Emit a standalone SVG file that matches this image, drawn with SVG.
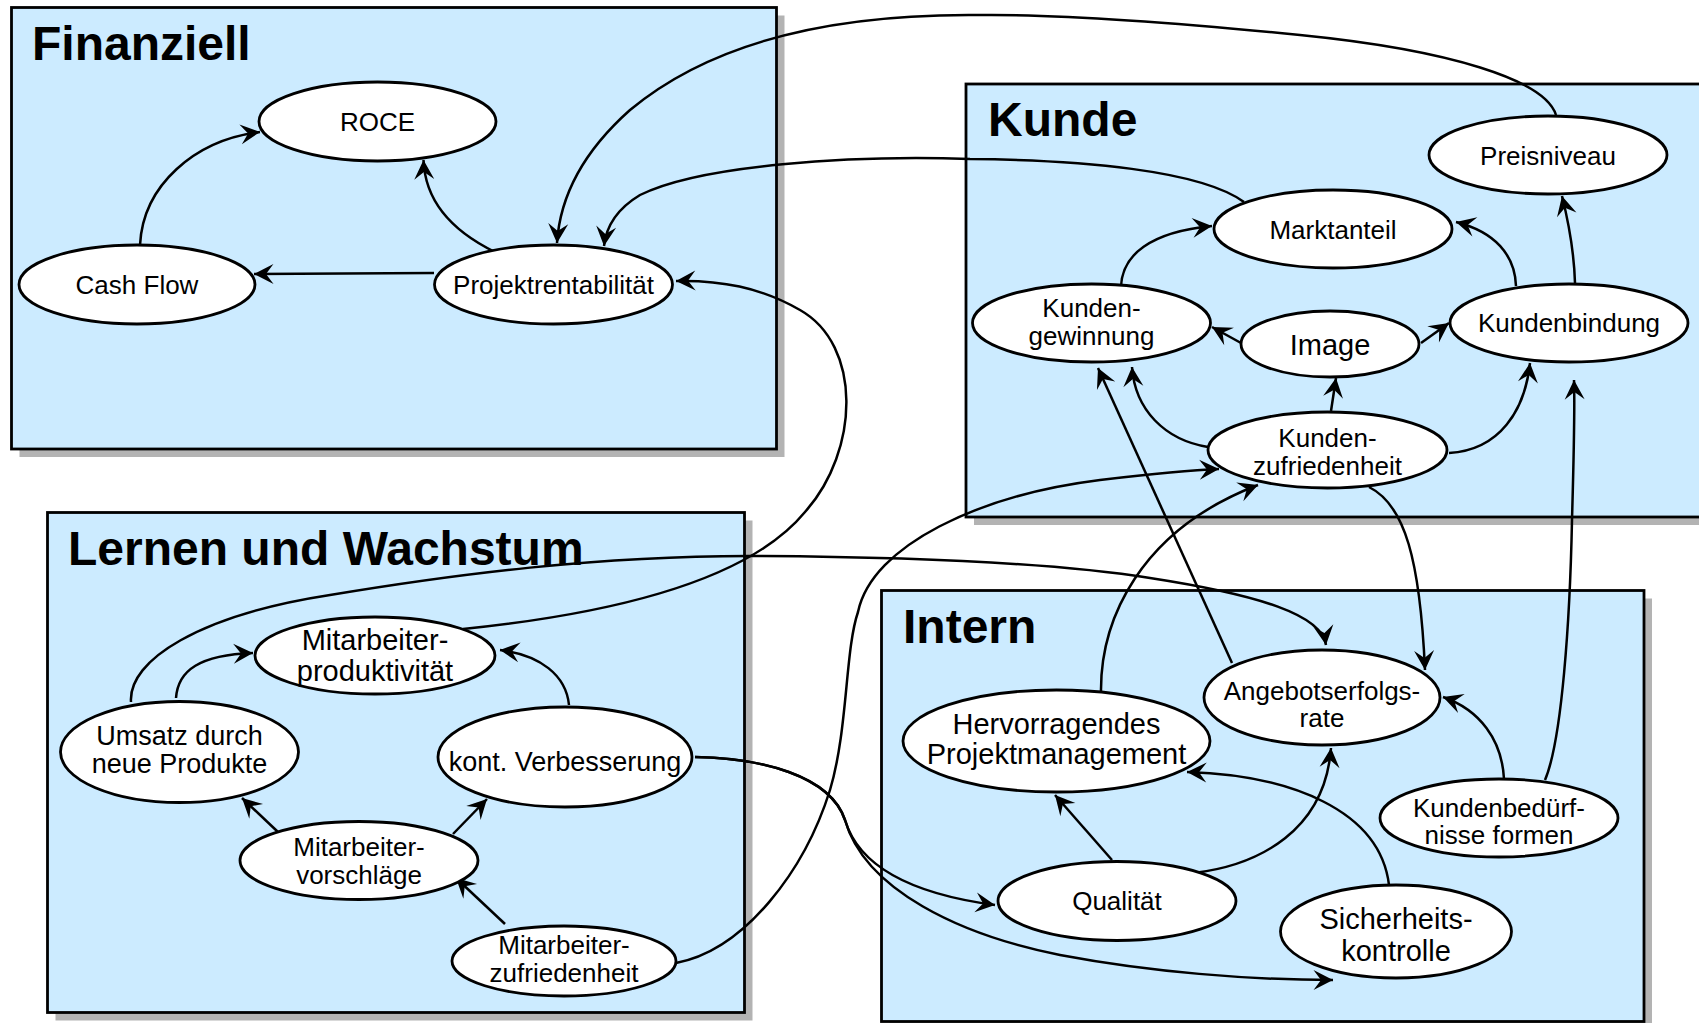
<svg xmlns="http://www.w3.org/2000/svg" width="1699" height="1023" viewBox="0 0 1699 1023">
  <style>
    .shadow { fill: #B3B3B3; }
    .panel { fill: #CCEBFF; stroke: #000; stroke-width: 2.8; }
    .title { font-family: "Liberation Sans", Arial, sans-serif; font-weight: bold; font-size: 48px; fill: #000; }
    .node ellipse { fill: #fff; stroke: #000; stroke-width: 2.8; }
    .node text { font-family: "Liberation Sans", Arial, sans-serif; font-size: 26px; fill: #000; text-anchor: middle; }
    .node text.lg { font-size: 29px; }
    .node text.md { font-size: 27px; }
    .edge { fill: none; stroke: #000; stroke-width: 2.5; }
    .arr { marker-end: url(#head); }
  </style>
  <defs>
    <marker id="head" markerUnits="userSpaceOnUse" viewBox="-21 -11 22 22" refX="0" refY="0" markerWidth="22" markerHeight="22" orient="auto">
      <path d="M0,0 L-19.5,-10 L-12,0 L-19.5,10 Z" fill="#000"/>
    </marker>
  </defs>

  <rect width="1699" height="1023" fill="#fff"/>

  <!-- perspective panels -->
  <g id="panel-finanziell">
    <rect class="shadow" x="19.5" y="15.5" width="765" height="441.5"/>
    <rect class="panel" x="11.5" y="7.5" width="765" height="441.5"/>
    <text class="title" x="32" y="60">Finanziell</text>
  </g>
  <g id="panel-kunde">
    <rect class="shadow" x="974" y="92" width="760" height="433"/>
    <rect class="panel" x="966" y="84" width="760" height="433"/>
    <text class="title" x="988" y="136">Kunde</text>
  </g>
  <g id="panel-lernen">
    <rect class="shadow" x="55.5" y="520.5" width="697" height="500"/>
    <rect class="panel" x="47.5" y="512.5" width="697" height="500"/>
    <text class="title" x="68" y="565">Lernen und Wachstum</text>
  </g>
  <g id="panel-intern">
    <rect class="shadow" x="889.5" y="598.5" width="762.5" height="431"/>
    <rect class="panel" x="881.5" y="590.5" width="762.5" height="431"/>
    <text class="title" x="903" y="643">Intern</text>
  </g>

  <!-- cause-and-effect links -->
  <g id="connectors">
    <!-- Finanziell -->
    <path class="edge arr" d="M140,245 C143,185 195,140 260,132"/>
    <path class="edge arr" d="M495,252 C450,230 425,200 423.5,160"/>
    <path class="edge arr" d="M434,273 L254,274"/>
    <path class="edge arr" d="M1556,115 C1545,80 1450,50 1300,35 C1150,20 1050,14 977,15 C850,14 720,35 630,110 C585,150 560,195 557,243"/>
    <path class="edge arr" d="M1244,202 C1200,170 1080,160 970,159 C850,155 700,165 640,195 C615,210 606,228 604,246"/>
    <path class="edge arr" d="M463,629 C600,615 745,585 805,512 C860,450 862,345 800,310 C760,287 720,280 676,281"/>
    <!-- Kunde -->
    <path class="edge arr" d="M1121,287 C1122,255 1150,232 1212,226"/>
    <path class="edge arr" d="M1516,286 C1515,255 1495,232 1456,222"/>
    <path class="edge arr" d="M1575,283 C1574,250 1568,220 1562,196"/>
    <path class="edge arr" d="M1241,343 L1212,327"/>
    <path class="edge arr" d="M1421,343 L1449,323"/>
    <path class="edge arr" d="M1331,411 L1336,378"/>
    <path class="edge arr" d="M1208,447 C1165,440 1135,410 1132,367"/>
    <path class="edge arr" d="M1449,453 C1500,450 1525,410 1530,363"/>
    <!-- Intern -->
    <path class="edge arr" d="M1101,693 C1100,620 1140,530 1258,485"/>
    <path class="edge arr" d="M1369,487 C1405,505 1420,560 1425,670"/>
    <path class="edge arr" d="M1232,663 L1098,368"/>
    <path class="edge arr" d="M1545,780 C1562,740 1570,620 1572,520 C1574,450 1575,410 1574,380"/>
    <path class="edge arr" d="M1504,779 C1502,740 1480,710 1443,697"/>
    <path class="edge arr" d="M1112,860 L1055,795"/>
    <path class="edge arr" d="M1194,873 C1260,865 1325,830 1331,748"/>
    <path class="edge arr" d="M1389,885 C1380,810 1290,775 1187,772"/>
    <!-- Lernen und Wachstum -->
    <path class="edge arr" d="M176,698 C178,670 200,655 253,653"/>
    <path class="edge arr" d="M569,705 C566,675 540,655 500,650"/>
    <path class="edge arr" d="M278,832 L242,798"/>
    <path class="edge arr" d="M453,834 L487,799"/>
    <path class="edge arr" d="M505,924 L456,878"/>
    <path class="edge arr" d="M131,702 C128,660 200,615 330,595 C450,575 600,555 760,556 C900,557 1050,562 1150,578 C1260,595 1322,615 1326,645"/>
    <path class="edge arr" d="M676,963 C745,950 805,870 830,790 C848,730 845,650 858,612 C872,545 980,495 1100,480 C1150,474 1190,470 1219,469"/>
    <path class="edge arr" d="M695,757 C760,758 830,775 845,820 C860,870 920,895 995,905"/>
    <path class="edge arr" d="M695,757 C760,758 830,775 845,820 C865,890 960,935 1060,955 C1150,972 1250,980 1333,980"/>
  </g>

  <!-- Finanziell -->
  <g id="roce" class="node">
    <ellipse cx="377.5" cy="121.5" rx="118.5" ry="39.5"/>
    <text x="377.5" y="131">ROCE</text>
  </g>
  <g id="cash-flow" class="node">
    <ellipse cx="137" cy="284.5" rx="118" ry="39.5"/>
    <text x="137" y="294">Cash Flow</text>
  </g>
  <g id="projektrentabilitaet" class="node">
    <ellipse cx="553.5" cy="284.5" rx="119" ry="39.5"/>
    <text x="553.5" y="294">Projektrentabilität</text>
  </g>

  <!-- Kunde -->
  <g id="preisniveau" class="node">
    <ellipse cx="1548" cy="155" rx="119" ry="39"/>
    <text x="1548" y="165">Preisniveau</text>
  </g>
  <g id="marktanteil" class="node">
    <ellipse cx="1333" cy="229" rx="119" ry="39"/>
    <text x="1333" y="239">Marktanteil</text>
  </g>
  <g id="kundengewinnung" class="node">
    <ellipse cx="1091.5" cy="323" rx="119" ry="39"/>
    <text><tspan x="1091.5" y="317">Kunden-</tspan><tspan x="1091.5" y="345">gewinnung</tspan></text>
  </g>
  <g id="image" class="node">
    <ellipse cx="1330" cy="344" rx="89" ry="33"/>
    <text class="lg" x="1330" y="355">Image</text>
  </g>
  <g id="kundenbindung" class="node">
    <ellipse cx="1569" cy="323" rx="119" ry="39"/>
    <text x="1569" y="332">Kundenbindung</text>
  </g>
  <g id="kundenzufriedenheit" class="node">
    <ellipse cx="1327.5" cy="450" rx="119.5" ry="38"/>
    <text><tspan x="1327.5" y="447">Kunden-</tspan><tspan x="1327.5" y="475">zufriedenheit</tspan></text>
  </g>

  <!-- Intern -->
  <g id="angebotserfolgsrate" class="node">
    <ellipse cx="1322" cy="697.5" rx="118" ry="47.5"/>
    <text><tspan x="1322" y="700">Angebotserfolgs-</tspan><tspan x="1322" y="727">rate</tspan></text>
  </g>
  <g id="projektmanagement" class="node">
    <ellipse cx="1056.5" cy="741" rx="153.5" ry="51"/>
    <text class="lg"><tspan x="1056.5" y="734">Hervorragendes</tspan><tspan x="1056.5" y="764">Projektmanagement</tspan></text>
  </g>
  <g id="kundenbeduerfnisse" class="node">
    <ellipse cx="1499" cy="818" rx="119" ry="39"/>
    <text><tspan x="1499" y="817">Kundenbedürf-</tspan><tspan x="1499" y="844">nisse formen</tspan></text>
  </g>
  <g id="qualitaet" class="node">
    <ellipse cx="1117" cy="901" rx="119" ry="39.5"/>
    <text x="1117" y="910">Qualität</text>
  </g>
  <g id="sicherheitskontrolle" class="node">
    <ellipse cx="1396" cy="931.5" rx="115.5" ry="46.5"/>
    <text class="lg"><tspan x="1396" y="929">Sicherheits-</tspan><tspan x="1396" y="961">kontrolle</tspan></text>
  </g>

  <!-- Lernen und Wachstum -->
  <g id="mitarbeiterproduktivitaet" class="node">
    <ellipse cx="375" cy="655.5" rx="120" ry="38.5"/>
    <text class="lg"><tspan x="375" y="650">Mitarbeiter-</tspan><tspan x="375" y="681">produktivität</tspan></text>
  </g>
  <g id="umsatz-neue-produkte" class="node">
    <ellipse cx="179.5" cy="752" rx="119" ry="50.5"/>
    <text class="md"><tspan x="179.5" y="745">Umsatz durch</tspan><tspan x="179.5" y="773">neue Produkte</tspan></text>
  </g>
  <g id="kont-verbesserung" class="node">
    <ellipse cx="565" cy="757" rx="127" ry="50"/>
    <text class="md" x="565" y="771">kont. Verbesserung</text>
  </g>
  <g id="mitarbeitervorschlaege" class="node">
    <ellipse cx="359" cy="860.5" rx="119" ry="39"/>
    <text><tspan x="359" y="856">Mitarbeiter-</tspan><tspan x="359" y="884">vorschläge</tspan></text>
  </g>
  <g id="mitarbeiterzufriedenheit" class="node">
    <ellipse cx="564" cy="961" rx="112" ry="35"/>
    <text><tspan x="564" y="954">Mitarbeiter-</tspan><tspan x="564" y="982">zufriedenheit</tspan></text>
  </g>
</svg>
